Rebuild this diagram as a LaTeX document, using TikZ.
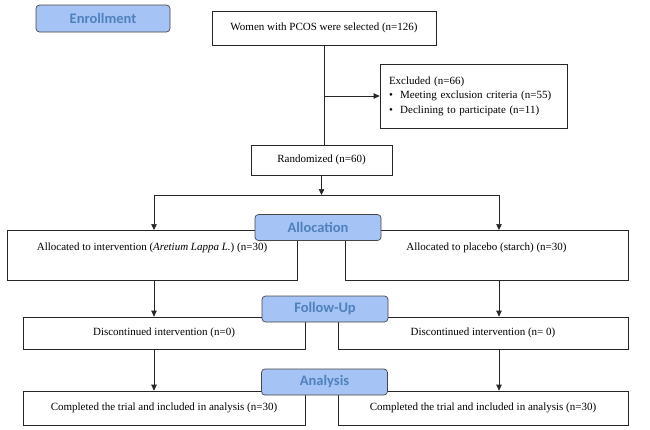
\documentclass[tikz,border=0pt]{standalone}
\usepackage{fontspec}
\setmainfont{Liberation Serif}
\newfontfamily\stagefont{Carlito}
\usetikzlibrary{positioning,arrows.meta}
\definecolor{stagefill}{RGB}{165,195,244}
\definecolor{stagetext}{RGB}{79,129,189}
\definecolor{stageline}{RGB}{70,70,70}

\begin{document}
\begin{tikzpicture}[x=1pt, y=-1pt,
    flowbox/.style={draw=black!85, line width=0.7pt, inner sep=0pt, font=\fontsize{11}{13}\selectfont},
    allocbox/.style={flowbox, anchor=north, text height=17pt, text depth=27pt, inner ysep=3pt},
    stage/.style={draw=stageline, line width=0.7pt, fill=stagefill, rounded corners=3.5pt, inner sep=0pt,
      minimum width=126pt, minimum height=26pt, text=stagetext,
      font=\stagefont\bfseries\fontsize{14.5}{16}\selectfont},
    flowline/.style={line width=0.7pt, black!85},
    flow/.style={flowline, -{Triangle[length=6pt,width=5.5pt]}},
  ]
  \useasboundingbox (0,0) rectangle (650,429);
  % enrollment
  \node[stage, minimum width=134pt, minimum height=27pt] (enroll) at (103,18.5) {Enrollment};
  \node[flowbox, minimum width=224pt, minimum height=34pt] (women) at (324,28) {Women with PCOS were selected (n=126)};
  \node[flowbox, minimum width=187pt, minimum height=64pt, text width=169pt, inner xsep=9pt, align=left,
    font=\fontsize{11}{14.5}\selectfont] (excl) at (473.5,96)
    {Excluded (n=66)\\ \textbullet\ \ Meeting exclusion criteria (n=55)\\ \textbullet\ \ Declining to participate (n=11)};
  \node[flowbox, minimum width=141pt, minimum height=30pt] (rand) at (321.5,160) {Randomized (n=60)};
  % allocation
  \node[allocbox, minimum width=290pt] (allocL) at (152,230) {Allocated to intervention (\textit{Aretium Lappa L.}) (n=30)};
  \node[allocbox, minimum width=283pt] (allocR) at (486.5,230) {Allocated to placebo (starch) (n=30)};
  % follow-up
  \node[flowbox, minimum width=282pt, minimum height=32pt] (discL) at (164,333) {Discontinued intervention (n=0)};
  \node[flowbox, minimum width=290pt, minimum height=32pt] (discR) at (483,333) {Discontinued intervention (n= 0)};
  % analysis
  \node[flowbox, minimum width=282pt, minimum height=34pt] (complL) at (164,408) {Completed the trial and included in analysis (n=30)};
  \node[flowbox, minimum width=290pt, minimum height=34pt] (complR) at (483,408) {Completed the trial and included in analysis (n=30)};

  \coordinate (splitL) at (154,195);
  \coordinate (splitR) at (499,195);
  \coordinate (trunk) at (rand.south |- splitL);

  \draw[flowline] (women.south) -- (women.south |- rand.north);
  \draw[flow] (women.south |- excl.west) -- (excl.west);
  \draw[flow] (rand.south) -- (trunk);
  \draw[flowline] (splitL) -- (splitR);
  \draw[flow] (splitL) -- (splitL |- allocL.north);
  \draw[flow] (splitR) -- (splitR |- allocR.north);
  \draw[flow] (splitL |- allocL.south) -- (splitL |- discL.north);
  \draw[flow] (splitR |- allocR.south) -- (splitR |- discR.north);
  \draw[flow] (splitL |- discL.south) -- (splitL |- complL.north);
  \draw[flow] (splitR |- discR.south) -- (splitR |- complR.north);

  % stage labels on top
  \node[stage] (alloc) at (318,227.5) {Allocation};
  \node[stage] (follow) at (325,309) {Follow-Up};
  \node[stage] (analysis) at (324.5,382) {Analysis};
\end{tikzpicture}
\end{document}
